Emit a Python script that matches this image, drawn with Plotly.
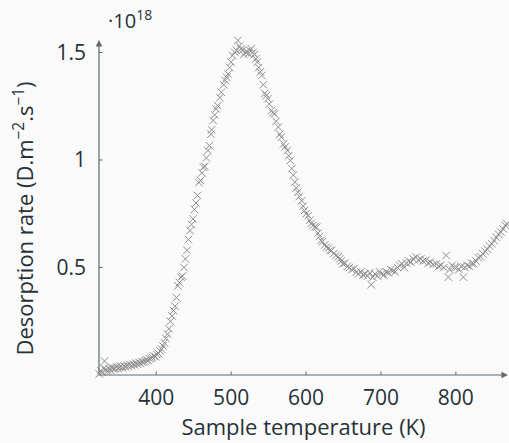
import plotly.graph_objects as go

# Sample temperature (K)
temperature = [
    324, 326, 328, 330, 331, 333, 335, 337, 339, 341, 343, 345, 347, 349, 351, 353, 355, 357, 359,
    361, 363, 365, 367, 369, 371, 373, 375, 377, 379, 381, 383, 385, 387, 389, 391, 393, 395, 397,
    399, 401, 403, 405, 407, 409, 411, 413, 415, 417, 419, 421, 423, 425, 427, 429, 431, 433, 435,
    437, 439, 441, 443, 445, 447, 449, 451, 453, 455, 457, 459, 461, 463, 465, 467, 469, 471, 473,
    474, 476, 478, 480, 482, 485, 487, 490, 492, 494, 496, 498, 500, 502, 505, 507, 509, 511, 513,
    515, 517, 519, 521, 523, 525, 527, 529, 531, 533, 535, 537, 539, 541, 543, 545, 547, 549, 551,
    554, 556, 558, 560, 563, 565, 567, 570, 572, 575, 577, 579, 581, 583, 585, 587, 589, 591, 594,
    596, 598, 600, 603, 605, 607, 609, 612, 614, 616, 618, 620, 622, 625, 627, 630, 632, 634, 637,
    640, 643, 645, 647, 649, 652, 655, 658, 661, 664, 667, 670, 673, 676, 679, 682, 685, 687, 689,
    692, 695, 698, 701, 704, 707, 710, 713, 716, 719, 722, 725, 728, 731, 734, 737, 740, 743, 747,
    750, 753, 756, 760, 763, 766, 770, 774, 777, 780, 784, 787, 790, 792, 795, 798, 801, 804, 807,
    810, 812, 815, 818, 821, 824, 827, 830, 833, 836, 839, 842, 845, 848, 851, 854, 857, 860, 863,
    866, 868, 870,
]

# Desorption rate, in units of 1e18 D.m^-2.s^-1
rate = [
    0.005, 0.020, 0.012, 0.030, 0.065, 0.025, 0.018, 0.030, 0.022, 0.035, 0.028, 0.030, 0.038, 0.030, 0.036, 0.040, 0.033, 0.042, 0.037,
    0.045, 0.040, 0.048, 0.043, 0.050, 0.047, 0.055, 0.050, 0.058, 0.055, 0.062, 0.060, 0.066, 0.070, 0.068, 0.075, 0.078, 0.082, 0.088,
    0.085, 0.095, 0.100, 0.112, 0.120, 0.135, 0.150, 0.170, 0.190, 0.215, 0.250, 0.275, 0.300, 0.320, 0.360, 0.415, 0.430, 0.455, 0.460,
    0.500, 0.540, 0.580, 0.630, 0.672, 0.700, 0.726, 0.770, 0.800, 0.835, 0.895, 0.905, 0.940, 0.967, 0.970, 1.010, 1.044, 1.067, 1.120,
    1.140, 1.184, 1.210, 1.238, 1.253, 1.290, 1.315, 1.350, 1.370, 1.385, 1.400, 1.430, 1.455, 1.486, 1.500, 1.510, 1.556, 1.530, 1.517,
    1.510, 1.490, 1.500, 1.505, 1.494, 1.510, 1.517, 1.500, 1.490, 1.470, 1.455, 1.430, 1.410, 1.393, 1.350, 1.310, 1.300, 1.285, 1.260,
    1.230, 1.220, 1.215, 1.180, 1.153, 1.120, 1.106, 1.075, 1.060, 1.044, 1.020, 0.998, 0.960, 0.930, 0.897, 0.870, 0.850, 0.830, 0.810,
    0.785, 0.765, 0.750, 0.742, 0.720, 0.705, 0.695, 0.690, 0.687, 0.660, 0.645, 0.626, 0.620, 0.605, 0.594, 0.590, 0.580, 0.579, 0.565,
    0.556, 0.550, 0.540, 0.530, 0.517, 0.520, 0.505, 0.500, 0.490, 0.495, 0.478, 0.470, 0.480, 0.465, 0.470, 0.460, 0.475, 0.420, 0.455,
    0.470, 0.460, 0.480, 0.470, 0.465, 0.480, 0.475, 0.490, 0.486, 0.480, 0.500, 0.510, 0.517, 0.500, 0.520, 0.530, 0.525, 0.540, 0.548,
    0.535, 0.540, 0.530, 0.533, 0.520, 0.525, 0.515, 0.517, 0.505, 0.510, 0.500, 0.556, 0.455, 0.490, 0.510, 0.500, 0.501, 0.490, 0.505,
    0.455, 0.500, 0.510, 0.505, 0.520, 0.517, 0.530, 0.545, 0.550, 0.564, 0.575, 0.585, 0.600, 0.610, 0.625, 0.640, 0.655, 0.665, 0.680,
    0.695, 0.703, 0.710,
]

x_ticks = [400, 500, 600, 700, 800]
x_tick_labels = ["400", "500", "600", "700", "800"]
y_ticks = [0.5, 1.0, 1.5]
y_tick_labels = ["0.5", "1", "1.5"]

FONT = "'Open Sans', Lato, sans-serif"
TEXT = "#263238"
AXIS = "#5f6b70"
BG = "#fafafa"
X_MIN = 323.6

fig = go.Figure()
fig.add_trace(go.Scatter(
    x=temperature, y=rate, mode="markers",
    marker=dict(symbol="x-thin", size=7.5, line=dict(width=1, color="#8f8f8f"), color="#8f8f8f"),
    cliponaxis=False, showlegend=False,
))

# tick marks crossing the axis lines
shapes = []
for t in x_ticks:
    shapes.append(dict(type="line", xref="x", yref="y", xsizemode="scaled", ysizemode="pixel",
                       x0=t, x1=t, yanchor=0, y0=-3.5, y1=3.5, line=dict(color=AXIS, width=1)))
for t in y_ticks:
    shapes.append(dict(type="line", xref="x", yref="y", xsizemode="pixel", ysizemode="scaled",
                       xanchor=X_MIN, x0=-3.5, x1=3.5, y0=t, y1=t, line=dict(color=AXIS, width=1)))

annotations = [
    # x axis with arrow
    dict(xref="paper", yref="paper", x=1.0, y=0, ax=-410, ay=0, axref="pixel", ayref="pixel",
         showarrow=True, arrowhead=2, arrowsize=1.1, arrowwidth=1.2, arrowcolor=AXIS, text=""),
    # y axis with arrow
    dict(xref="paper", yref="paper", x=0, y=1.0, ax=0, ay=335, axref="pixel", ayref="pixel",
         showarrow=True, arrowhead=2, arrowsize=1.1, arrowwidth=1.2, arrowcolor=AXIS, text=""),
    # scale factor
    dict(xref="paper", yref="paper", x=0.018, y=1.0, xanchor="left", yanchor="bottom", yshift=4,
         showarrow=False, text="·10<sup>18</sup>", font=dict(family=FONT, size=20, color=TEXT)),
    # y axis title
    dict(xref="paper", yref="paper", x=0, y=0.5, xanchor="center", yanchor="middle",
         xshift=-76, yshift=-11, textangle=-90, showarrow=False,
         text="Desorption rate (D.m<sup>−2</sup>.s<sup>−1</sup>)",
         font=dict(family=FONT, size=22, color=TEXT)),
]

fig.update_layout(
    width=509, height=443,
    margin=dict(l=99, r=1, t=40, b=68),
    paper_bgcolor=BG, plot_bgcolor=BG,
    font=dict(family=FONT, size=21, color=TEXT),
    shapes=shapes, annotations=annotations,
    xaxis=dict(range=[X_MIN, 869.6], tickvals=x_ticks, ticktext=x_tick_labels, ticks="",
               showgrid=False, zeroline=False, showline=False, ticklabelstandoff=8,
               title=dict(text="Sample temperature (K)", standoff=8, font=dict(size=22))),
    yaxis=dict(range=[0, 1.558], tickvals=y_ticks, ticktext=y_tick_labels, ticks="",
               showgrid=False, zeroline=False, showline=False, ticklabelstandoff=12),
)

fig.write_html("out.html")
